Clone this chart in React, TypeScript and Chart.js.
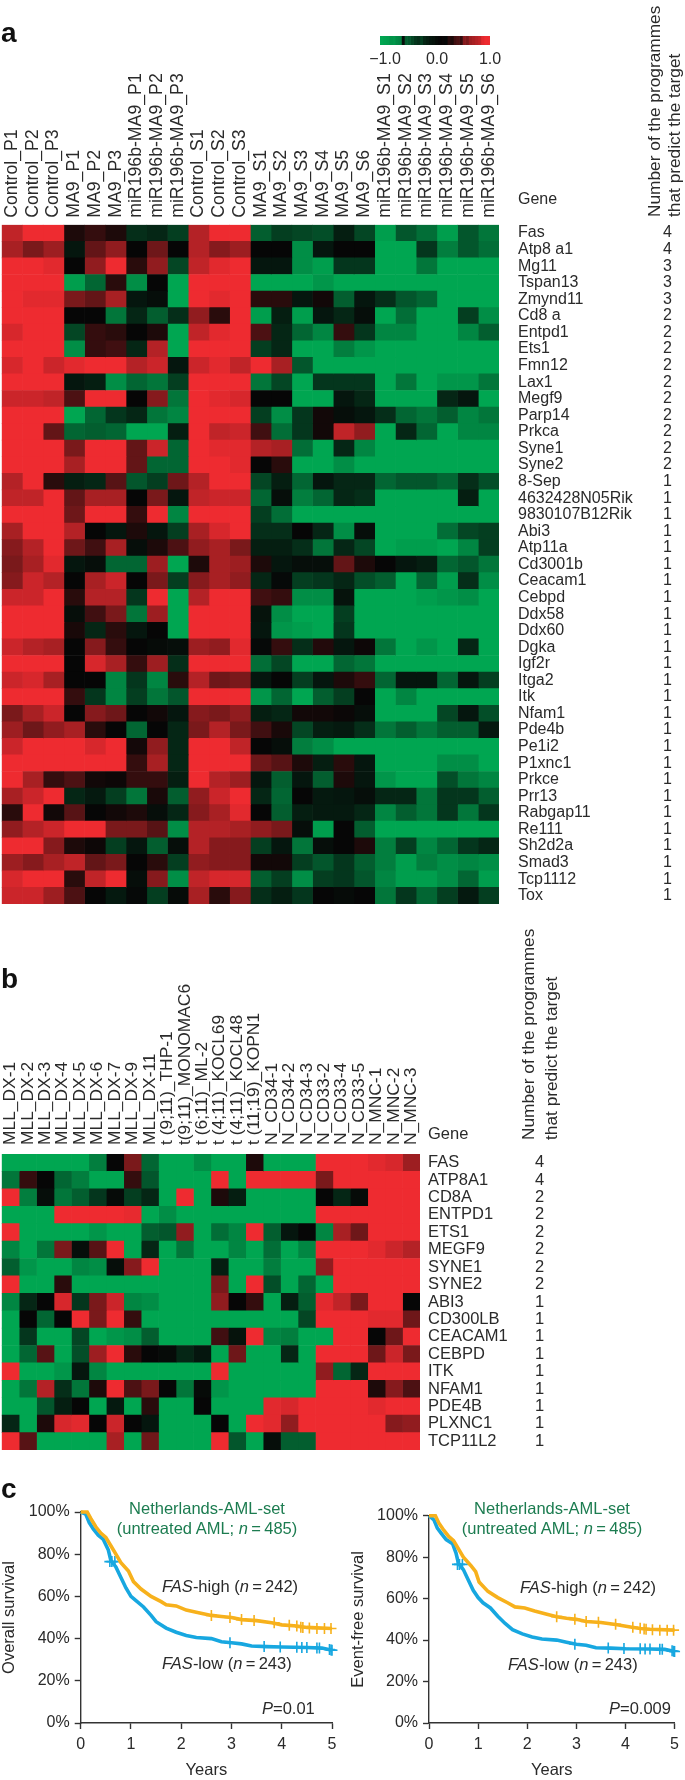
import React, { useEffect, useRef } from "react";
import { Chart, registerables } from "chart.js";

Chart.register(...registerables);

const FONT = '"Liberation Sans", Arial, sans-serif';
const INK = "#2a2a2a";

const colsA = ["Control_P1","Control_P2","Control_P3","MA9_P1","MA9_P2","MA9_P3","miR196b-MA9_P1","miR196b-MA9_P2","miR196b-MA9_P3","Control_S1","Control_S2","Control_S3","MA9_S1","MA9_S2","MA9_S3","MA9_S4","MA9_S5","MA9_S6","miR196b-MA9_S1","miR196b-MA9_S2","miR196b-MA9_S3","miR196b-MA9_S4","miR196b-MA9_S5","miR196b-MA9_S6"];
const genesA = ["Fas","Atp8 a1","Mg11","Tspan13","Zmynd11","Cd8 a","Entpd1","Ets1","Fmn12","Lax1","Megf9","Parp14","Prkca","Syne1","Syne2","8-Sep","4632428N05Rik","9830107B12Rik","Abi3","Atp11a","Cd3001b","Ceacam1","Cebpd","Ddx58","Ddx60","Dgka","Igf2r","Itga2","Itk","Nfam1","Pde4b","Pe1i2","P1xnc1","Prkce","Prr13","Rabgap11","Re111","Sh2d2a","Smad3","Tcp1112","Tox"];
const countsA = ["4","4","3","3","3","2","2","2","2","2","2","2","2","2","2","1","1","1","1","1","1","1","1","1","1","1","1","1","1","1","1","1","1","1","1","1","1","1","1","1","1"];
const matrixA = [
[.8,1,1,.1,.2,.1,-.25,-.2,-.35,.75,1,1,-.55,-.35,-.4,-.45,-.15,-.4,-.95,-.5,-.65,-.95,-.5,-.7],
[.7,.5,.65,-.1,.4,.6,0,.45,0,.75,.55,.65,0,0,-.85,-.1,0,0,-1,-1,-.3,-.75,-.5,-.65],
[1,1,.95,0,.6,1,.15,.6,-.4,.8,.95,1,-.1,-.1,-.85,-.95,-.3,-.3,-1,-1,-.7,-1,-1,-1],
[1,1,1,-.95,-.6,.15,-.85,0,-1,1,1,1,-1,-1,-1,-.9,-1,-1,-1,-1,-1,-1,-1,-1],
[1,.95,.95,.5,.4,.7,-.1,-.05,-1,1,.95,1,.15,.15,-.1,.05,-.55,-.1,-.25,-.5,-.6,-1,-1,-1],
[1,1,1,0,0,-.7,-.2,-.55,-.25,.6,.15,1,-.95,-.15,-.95,-.1,-.2,-.05,-1,-.65,-1,-1,-.35,-.85],
[.9,1,1,-.4,.2,.15,0,.1,-1,.8,.95,1,.3,-.2,-.6,-.8,.2,-.3,-.8,-.8,-1,-1,-.8,-.55],
[1,1,1,-.85,.2,.25,-.2,.75,-1,1,1,1,-.35,-.2,-1,-1,-.75,-.9,-1,-1,-1,-1,-1,-1],
[.9,1,.85,.95,1,1,.75,.85,-.1,.85,.95,.8,1,.7,-.5,-1,-1,-1,-1,-1,-1,-1,-1,-1],
[1,1,1,-.1,-.15,-.85,-.6,-.7,-.35,1,1,1,-.7,-.4,-1,-.3,-.3,-.3,-1,-.7,-1,-.9,-.9,-.7],
[.85,.85,.8,.3,1,1,0,.55,-.7,1,.95,.9,0,0,-1,-1,-.1,-.2,-1,-1,-1,-.2,-.1,-1],
[1,1,1,-1,-.6,-.3,-.2,-.7,-.8,1,1,1,-.35,-.85,-.3,.05,-.05,-.1,-.25,-.6,-.7,-.55,-.8,-.7],
[1,1,.4,-.6,-.55,-.6,-1,-1,-.15,1,.8,.85,.25,-.65,-.3,.05,.8,.6,-1,-.2,-.6,-1,-.8,-.8],
[1,1,1,.5,1,1,.4,.85,-.6,1,.95,.95,.75,.7,-.65,-1,-.2,-.8,-1,-1,-1,-1,-1,-1],
[1,1,1,.7,1,1,.4,-.6,-.6,1,1,.95,0,.15,-1,-1,-.85,-1,-1,-1,-1,-1,-1,-1],
[.75,1,.15,-.15,-.2,.35,-.5,-.35,.45,.75,1,1,-.4,-.15,-.6,-.1,-.2,-.2,-.6,-.5,-.5,-.6,-.25,-.45],
[.8,.8,1,.4,.7,.7,0,.5,-.1,.8,.85,.85,-.6,-.05,-.75,-.6,-.2,-.25,-1,-1,-1,-1,-.15,-1],
[1,1,1,.45,1,1,.2,1,-.8,1,1,1,-.35,-.65,-1,-1,-1,-1,-1,-1,-1,-1,-1,-1],
[.7,1,1,.75,0,-.1,.1,-.1,-.35,.7,.9,1,-.25,-.25,0,-.2,-.85,-.05,-1,-1,-1,-.65,-.4,-.35],
[.55,.75,1,.45,.25,.7,-.05,.1,.3,.6,.7,.5,-.15,-.15,-.25,-.7,-.2,-.4,-1,-.95,-.95,-1,-.8,-.35],
[.5,.7,.95,-.1,-.05,-.6,-.6,.65,-1,.1,.7,.65,.1,-.1,-.05,-.05,.4,.1,0,-.1,-.15,-.6,-.5,-.7],
[.55,.85,.75,0,.7,.85,0,.5,-.35,.55,.7,.6,-.2,-.02,-.35,-.3,-.2,-.45,-.55,-1,-.6,-.95,-.25,-.85],
[.85,.85,1,.15,.75,.75,-.3,1,-1,.75,1,1,.25,.2,-.85,-.85,-.08,-1,-1,-1,-.95,-.9,-.85,-1],
[1,1,1,-.05,.25,.5,-.7,.65,-1,1,1,1,-.08,-.85,-1,-1,-.35,-1,-1,-1,-1,-1,-1,-1],
[1,1,1,.08,-.2,.15,-.1,0,-1,1,1,1,-.1,-.9,-.95,-1,-.3,-1,-1,-1,-1,-1,-1,-1],
[.85,.75,.7,0,.55,.2,0,-.03,-.05,.65,.6,.95,-.02,.2,-.25,.12,-.1,.03,-.7,-1,-.9,-1,-.2,-1],
[1,1,1,0,.9,.7,.2,.65,-.25,1,1,1,-.65,-.4,-1,-1,-.6,-.7,-1,-1,-1,-1,-1,-1],
[.85,.9,.7,0,0,-.8,-.3,-.8,.15,.75,.45,.5,-.1,0,-.35,-.1,.1,.2,-.6,-.1,-.1,-.6,-.1,-.35],
[1,1,1,.2,-.3,-.8,-.35,-.7,-.5,1,1,1,-.9,-.6,-1,-.55,-.35,0,-1,-.8,-1,-1,-1,-1],
[.5,.7,.85,0,.55,.45,0,.05,-.1,.55,.5,.6,-.15,-.2,.05,.05,.02,-.05,-1,-1,-1,-.4,-.1,-.45],
[.65,.45,.6,.7,.15,0,-.6,0,-.2,.5,.75,.5,.25,.08,-.4,-.15,-.12,-.25,-.7,-.55,-.7,-.55,-.55,-.12],
[.85,1,1,1,.9,1,.06,.6,-.2,1,1,.8,0,-.05,-.75,-.85,-1,-1,-1,-1,-1,-1,-1,-1],
[1,1,1,1,1,1,.2,.7,-.2,1,1,1,.45,.35,.1,-.15,.15,-.1,-1,-1,-1,-.85,-.85,-1],
[1,.7,.2,.3,.05,.03,.2,.2,-.15,1,.75,.65,-.1,-.55,-.1,-.55,.1,-.1,-.9,-1,-1,-.45,-.7,-.8],
[.7,.85,1,-.2,-.12,-.35,-.7,.08,-.55,.6,.85,1,-.2,-.6,0,-.12,-.1,-.05,-.2,-.2,-.7,-.3,-.3,-.55],
[.15,1,.05,.35,0,.05,.1,-.05,-.2,.55,.7,.95,0,-.55,-.15,-.12,-.12,-.2,-.8,-.55,-.7,-.3,-.7,-.3],
[.6,.75,.85,1,1,.5,.5,.35,-.85,.75,.75,.7,.6,.5,-.05,-.95,0,-.55,-1,-1,-1,-1,-1,-1],
[1,1,.55,.1,.03,-.35,-.1,-.55,-.05,.75,.55,.55,-.35,-.1,-.7,-.05,0,.1,-.75,-.35,-.8,-.6,-.3,-.2],
[.65,.55,.7,.8,.4,.5,0,.15,-.35,.6,.55,.55,.05,.05,-.35,-.5,-.3,-.55,-.75,-.95,-.75,-.85,-.8,-.85],
[.9,1,1,.15,.8,1,-.05,.55,-.85,.8,.9,.9,-.55,-.35,-.85,-.35,-.3,-.5,-.8,-.95,-.95,-.85,-.6,-.95],
[.85,.85,.65,.3,0,-.12,-.02,-.35,-.03,.7,.15,.55,-.25,-.15,-.3,0,-.03,0,-.7,-.3,-.6,-.35,-.12,-.35],
];

const colsB = ["MLL_DX-1","MLL_DX-2","MLL_DX-3","MLL_DX-4","MLL_DX-5","MLL_DX-6","MLL_DX-7","MLL_DX-9","MLL_DX-11","t (9;11)_THP-1","t(9;11)_MONOMAC6","t (6;11)_ML-2","t (4;11)_KOCL69","t (4;11)_KOCL48","t (11;19)_KOPN1","N_CD34-1","N_CD34-2","N_CD34-3","N_CD33-2","N_CD33-4","N_CD33-5","N_MNC-1","N_MNC-2","N_MNC-3"];
const genesB = ["FAS","ATP8A1","CD8A","ENTPD1","ETS1","MEGF9","SYNE1","SYNE2","ABI3","CD300LB","CEACAM1","CEBPD","ITK","NFAM1","PDE4B","PLXNC1","TCP11L2"];
const countsB = ["4","4","2","2","2","2","2","2","1","1","1","1","1","1","1","1","1"];
const matrixB = [
[-1,-1,-1,-1,-1,-.75,0,.5,-.6,-1,-1,-.85,-1,-1,.1,-1,-1,-1,1,1,1,.95,.9,.65],
[-.7,.2,0,-.6,-.75,-1,-1,.2,-.5,-1,-1,-1,1,-1,1,1,1,1,.5,1,1,1,1,1],
[1,-.75,-.05,-.7,-.55,-.3,-.03,-.35,-.2,-1,1,-1,.1,-.15,-1,-1,-1,-1,0,-.2,-.03,1,1,1],
[-1,-1,-1,1,1,1,1,.97,-1,-.85,-1,-1,-1,-1,-1,-1,-1,-1,1,1,1,1,1,1],
[1,-1,-1,-1,-1,-.9,-1,-1,-.55,-.5,.6,-1,-.65,-.8,1,-.55,-.1,0,-.8,.7,.45,1,1,1],
[-.8,-1,-.7,.5,-.05,.35,1,-1,-.2,-1,-.7,-1,-1,-.8,-1,-.65,-1,-.8,1,1,1,.95,.85,.75],
[-.55,-.9,-1,-1,-.8,-.85,-.05,.55,1,-1,-1,-1,-.15,-1,-1,-.75,-1,-1,.6,1,1,1,1,1],
[1,-1,-1,.15,-1,-1,-1,-1,-1,-1,-1,-1,.5,-1,1,-.45,-1,-.6,-1,1,1,1,1,1],
[-.8,-.2,0,.9,-.3,.5,.85,-.8,-.85,-1,-1,-1,.6,0,.2,-1,-.15,-.55,.95,.8,.5,1,1,0],
[-1,0,-.6,0,1,.5,1,.2,-1,-1,-1,-1,-1,-1,-1,-1,-1,-.4,1,1,1,.95,.95,.45],
[-1,-.3,-1,-1,-.4,-1,-.9,-.85,-.55,-1,-1,-1,.25,-.08,1,-.8,-.75,-1,-1,1,1,0,.45,1],
[-1,-.6,.35,-1,-.45,.65,1,.15,0,-.03,-.2,-.1,-1,.45,-1,-1,-.2,-1,1,1,1,.45,.85,.5],
[1,-1,-1,-.9,-.1,-.8,-1,-1,-1,-1,-1,-1,1,-1,-1,-1,-1,-1,.6,-.6,-.2,1,1,1],
[-1,-.7,.75,-.25,-.7,.1,1,.3,.5,0,-.7,-.03,-.9,-1,-1,-1,-1,-1,1,1,1,.1,.55,.3],
[-1,-1,-.5,-.15,0,-1,-.12,-1,.15,-1,-1,0,-1,-1,-1,.95,.9,1,1,1,1,.95,1,1],
[-.2,-1,.1,.9,.95,0,.85,0,-.1,-1,-1,-1,0,-1,1,.95,.6,1,1,1,1,1,.55,.6],
[1,.35,-1,-1,-1,-1,.7,-1,.45,-1,-1,-1,1,-.5,-1,-.05,-.55,-.55,1,1,1,1,1,1],
];

const legendSwatches = [-1,-.97,-.95,-.88,-.9,-.82,-.78,-.05,-.55,-.5,-.4,-.3,-.25,-.35,-.2,-.15,-.1,-.08,-.03,0,.02,-.02,.15,.1,.25,.3,.2,.55,.5,.65,.7,.75,.8,.95,1,1];

const kmLeftHighX = [0,.13,.2,.3,.4,.5,.6,.7,.8,.95,1.05,1.2,1.4,1.6,1.7,1.9,2.1,2.3,2.6,2.8,3,3.2,3.5,3.8,4,4.3,4.5,5];
const kmLeftHighY = [100,100,97,93,90,88,84,80,76,72,67,63.5,60,57.5,56,55.5,53.5,52.5,51,50.5,50,49,48.5,47.5,46.5,46,45.3,44.8];
const kmLeftLowX = [0,.1,.17,.25,.35,.45,.55,.6,.7,.8,.9,1,1.1,1.25,1.4,1.5,1.7,1.9,2.1,2.3,2.6,2.8,3,3.2,3.4,3.7,4,4.5,4.8,5];
const kmLeftLowY = [100,99,95,92,89,87,82,77,74,69,64,60,58,55,51,48,45,43,41.5,40.5,40,38.5,38,37.5,36.5,36.2,36,35.8,35.5,34.5];
const kmRightHighX = [0,.13,.2,.3,.4,.5,.6,.7,.85,.95,1.02,1.2,1.4,1.6,1.75,1.95,2.15,2.4,2.6,2.8,3,3.2,3.5,3.8,4.1,4.3,4.5,5];
const kmRightHighY = [100,100,96.5,93,90,88,84,80,76,73,68,63.5,60.5,58,56,55.5,54,52.5,51.3,50.5,50,49,48.5,47.5,46.3,45.6,45.2,44.8];
const kmRightLowX = [0,.1,.17,.25,.35,.48,.55,.6,.7,.8,.9,1,1.1,1.25,1.4,1.55,1.7,1.9,2.1,2.3,2.6,2.8,3,3.2,3.4,3.7,4,4.5,4.8,5];
const kmRightLowY = [100,98,94,91.5,88.5,86.5,82,77,74,69,64,60.5,58,55.5,51.5,48,45,43,41.5,40.5,40,39,38,37.5,36.3,36.1,35.8,35.7,35.5,34.5];

const censorLeftHighX = [2.6,2.97,3.2,3.45,3.85,4.15,4.3,4.38,4.42,4.55,4.7,4.85,4.98];
const censorLeftHighY = [51,50,49,48.6,47.5,46.3,46,45.4,45.3,45,44.8,44.8,44.8];
const censorLeftLowX = [.58,.62,.68,2.97,3.65,3.97,4.3,4.4,4.5,4.7,4.75,4.95,4.98,5];
const censorLeftLowY = [76.5,76.5,76.5,38,36.3,36,35.9,35.8,35.8,35.6,35.6,34.8,34.6,34.5];
const censorRightHighX = [2.6,2.97,3.2,3.45,3.8,4.15,4.3,4.38,4.42,4.55,4.7,4.85,4.98];
const censorRightHighY = [51.3,50,49,48.6,47.6,46.2,45.7,45.3,45.2,45,44.8,44.8,44.8];
const censorRightLowX = [.58,.62,.68,2.97,3.65,3.97,4.3,4.4,4.5,4.7,4.75,4.95,4.98,5];
const censorRightLowY = [76.5,76.5,76.5,38,36.2,35.9,35.8,35.7,35.7,35.6,35.6,34.8,34.6,34.5];

const ORANGE = "#F7B11C";
const BLUE = "#17A7E0";

function heatColor(v: number): string {
  const t = Math.min(1, Math.abs(v));
  const c = v >= 0 ? [238, 43, 48] : [0, 166, 81];
  return `rgb(${c.map((k) => Math.round(k * t + 6 * (1 - t))).join(",")})`;
}

function heatDatasets(matrix: number[][]) {
  return matrix[0].map((_, col) => ({
    xAxisID: "x",
    yAxisID: "y",
    data: matrix.map(() => 1),
    backgroundColor: matrix.map((row) => heatColor(row[col])),
    borderWidth: 0,
    barPercentage: 1,
    categoryPercentage: 1,
    stack: "s",
  }));
}

function Heatmap(p: { left: number; top: number; w: number; h: number; cols: string[]; genes: string[]; counts: string[]; matrix: number[][]; fs: number; colFs: number; axisTop: number; padLeft: number; colPad: number; genePad: number; geneW: number; countW: number }) {
  const ref = useRef<HTMLCanvasElement>(null);
  useEffect(() => {
    const font = { family: FONT, size: p.fs };
    const noPad = (s: any) => { s.paddingLeft = 0; s.paddingRight = 0; s.paddingTop = 0; s.paddingBottom = 0; };
    const chart = new Chart(ref.current!, {
      type: "bar",
      data: { labels: p.genes, datasets: heatDatasets(p.matrix) as any },
      options: {
        indexAxis: "y",
        animation: false,
        responsive: false,
        layout: { padding: { left: p.padLeft, right: 0, top: 0, bottom: 0 } },
        plugins: { legend: { display: false }, tooltip: { enabled: false } },
        scales: {
          x: { type: "linear", stacked: true, min: 0, max: p.cols.length, display: false },
          xl: {
            type: "category", labels: p.cols, position: "top", offset: true,
            border: { display: false }, grid: { display: false, drawTicks: false },
            ticks: { autoSkip: false, minRotation: 90, maxRotation: 90, padding: p.colPad, color: INK, font: { family: FONT, size: p.colFs }, labelOffset: p.colFs * 1.2 },
            afterFit: (s: any) => { s.height = p.axisTop; noPad(s); },
          },
          y: {
            type: "category", stacked: true, position: "right", offset: true, weight: 0,
            border: { display: false }, grid: { display: false, drawTicks: false },
            ticks: { autoSkip: false, padding: p.genePad, color: INK, font },
            afterFit: (s: any) => { s.width = p.geneW; noPad(s); },
          },
          yc: {
            type: "category", labels: p.counts, position: "right", offset: true, weight: 1,
            border: { display: false }, grid: { display: false, drawTicks: false },
            ticks: { autoSkip: false, padding: 3, color: INK, font },
            afterFit: (s: any) => { s.width = p.countW; noPad(s); },
          },
        } as any,
      },
    });
    return () => chart.destroy();
  }, []);
  return <canvas ref={ref} width={p.w} height={p.h} style={{ position: "absolute", left: p.left, top: p.top, width: p.w, height: p.h }} />;
}

function ColorBar() {
  const ref = useRef<HTMLCanvasElement>(null);
  useEffect(() => {
    const chart = new Chart(ref.current!, {
      type: "bar",
      data: { labels: ["scale"], datasets: heatDatasets([legendSwatches]) as any },
      options: {
        indexAxis: "y", animation: false, responsive: false,
        plugins: { legend: { display: false }, tooltip: { enabled: false } },
        scales: {
          x: { type: "linear", stacked: true, min: 0, max: legendSwatches.length, display: false },
          y: { type: "category", stacked: true, display: false },
        } as any,
      },
    });
    return () => chart.destroy();
  }, []);
  return <canvas ref={ref} width={110} height={9} style={{ position: "absolute", left: 380, top: 36, width: 110, height: 9 }} />;
}

function xy(xs: number[], ys: number[]) {
  return xs.map((x, i) => ({ x, y: ys[i] }));
}

function Survival(p: { left: number; title: string; titlePad: number; axisW: number; padTop: number; padRight: number; high: any[]; low: any[]; cHigh: any[]; cLow: any[] }) {
  const ref = useRef<HTMLCanvasElement>(null);
  useEffect(() => {
    const font = { family: FONT, size: 16 };
    const line = (data: any[], color: string) => ({ data, showLine: true, borderColor: color, backgroundColor: color, borderWidth: 3.6, pointRadius: 0, fill: false, tension: 0, clip: false });
    const marks = (data: any[], color: string) => ({ data, showLine: false, pointStyle: "cross", pointRadius: 5.5, pointBorderWidth: 1.6, pointBorderColor: color, borderColor: color, clip: false });
    const axis = { border: { color: "#333", width: 1.4 }, grid: { drawOnChartArea: false, drawTicks: true, tickLength: 6, tickColor: "#333", tickWidth: 1.4 } };
    const chart = new Chart(ref.current!, {
      type: "scatter",
      data: { datasets: [line(p.high, ORANGE), line(p.low, BLUE), marks(p.cHigh, ORANGE), marks(p.cLow, BLUE)] as any },
      options: {
        animation: false, responsive: false,
        layout: { padding: { left: 0, right: p.padRight, top: p.padTop, bottom: 0 } },
        plugins: { legend: { display: false }, tooltip: { enabled: false } },
        scales: {
          x: {
            type: "linear", min: 0, max: 5, ...axis,
            ticks: { stepSize: 1, padding: 6, color: INK, font, maxRotation: 0 },
            title: { display: true, text: "Years", color: INK, font: { family: FONT, size: 16.5 }, padding: 0 },
            afterFit: (s: any) => { s.height = 57; },
          },
          y: {
            type: "linear", min: 0, max: 100, ...axis,
            ticks: { stepSize: 20, padding: 5, color: INK, font, callback: (v: any) => `${v}%` },
            title: { display: true, text: p.title, color: INK, font: { family: FONT, size: 16.5 }, padding: { top: p.titlePad, bottom: 0 } },
            afterFit: (s: any) => { s.width = p.axisW; },
          },
        } as any,
      },
    });
    return () => chart.destroy();
  }, []);
  return <canvas ref={ref} width={345} height={300} style={{ position: "absolute", left: p.left, top: 1480, width: 345, height: 300 }} />;
}

function T(p: { x: number; y: number; c?: boolean; color?: string; size?: number; weight?: number; children: React.ReactNode }) {
  return (
    <span style={{ position: "absolute", left: p.x, top: p.y, transform: p.c ? "translate(-50%,-50%)" : "translateY(-50%)", whiteSpace: "nowrap", fontFamily: FONT, fontSize: p.size ?? 16, fontWeight: p.weight ?? 400, color: p.color ?? INK, lineHeight: 1 }}>
      {p.children}
    </span>
  );
}

function V(p: { x: number; y: number; size: number; children: React.ReactNode }) {
  return (
    <span style={{ position: "absolute", left: p.x, top: p.y, transformOrigin: "0 0", transform: "rotate(-90deg) translateY(-50%)", whiteSpace: "nowrap", fontFamily: FONT, fontSize: p.size, color: INK, lineHeight: 1 }}>
      {p.children}
    </span>
  );
}

const GREEN = "#1C7C50";
const N = () => <i>n</i>;

export default function App() {
  return (
    <div style={{ position: "absolute", left: 0, top: 0, width: 685, height: 1780, overflow: "hidden", background: "#fff" }}>
      <Heatmap left={0} top={0} w={685} h={904} cols={colsA} genes={genesA} counts={countsA} matrix={matrixA} fs={16} colFs={17.7} axisTop={224.8} padLeft={1.7} colPad={7} genePad={19} geneW={161} countW={25} />
      <Heatmap left={0} top={960} w={685} h={490} cols={colsB} genes={genesB} counts={countsB} matrix={matrixB} fs={16.5} colFs={17.4} axisTop={194} padLeft={1.7} colPad={9} genePad={8} geneW={112} countW={153} />
      <ColorBar />
      <Survival left={0} title="Overall survival" titlePad={0} axisW={80.7} padTop={32} padRight={13} high={xy(kmLeftHighX, kmLeftHighY)} low={xy(kmLeftLowX, kmLeftLowY)} cHigh={xy(censorLeftHighX, censorLeftHighY)} cLow={xy(censorLeftLowX, censorLeftLowY)} />
      <Survival left={340} title="Event-free survival" titlePad={8.4} axisW={89} padTop={35.7} padRight={8.3} high={xy(kmRightHighX, kmRightHighY)} low={xy(kmRightLowX, kmRightLowY)} cHigh={xy(censorRightHighX, censorRightHighY)} cLow={xy(censorRightLowX, censorRightLowY)} />

      <T x={1} y={33} size={28} weight={700} color="#111">a</T>
      <T x={1} y={979} size={28} weight={700} color="#111">b</T>
      <T x={1} y={1489} size={28} weight={700} color="#111">c</T>

      <T x={385} y={59} c>−1.0</T>
      <T x={437} y={59} c>0.0</T>
      <T x={490} y={59} c>1.0</T>

      <T x={518} y={199}>Gene</T>
      <V x={655} y={217} size={17.3}>Number of the programmes</V>
      <V x={675} y={217} size={17.3}>that predict the target</V>

      <T x={428} y={1133} size={16.5}>Gene</T>
      <V x={529} y={1140} size={17.3}>Number of the programmes</V>
      <V x={552} y={1140} size={17.3}>that predict the target</V>

      <T x={207} y={1508} c color={GREEN} size={16.5}>Netherlands-AML-set</T>
      <T x={207} y={1528} c color={GREEN} size={16.5}>(untreated AML; <N />{"\u2009=\u2009"}485)</T>
      <T x={162} y={1586} size={16.5}><i>FAS</i>-high (<N />{"\u2009=\u2009"}242)</T>
      <T x={162} y={1663} size={16.5}><i>FAS</i>-low (<N />{"\u2009=\u2009"}243)</T>
      <T x={262} y={1708} size={16.5}><i>P</i>=0.01</T>

      <T x={552} y={1508} c color={GREEN} size={16.5}>Netherlands-AML-set</T>
      <T x={552} y={1528} c color={GREEN} size={16.5}>(untreated AML; <N />{"\u2009=\u2009"}485)</T>
      <T x={520} y={1587} size={16.5}><i>FAS</i>-high (<N />{"\u2009=\u2009"}242)</T>
      <T x={508} y={1664} size={16.5}><i>FAS</i>-low (<N />{"\u2009=\u2009"}243)</T>
      <T x={609} y={1708} size={16.5}><i>P</i>=0.009</T>
    </div>
  );
}
